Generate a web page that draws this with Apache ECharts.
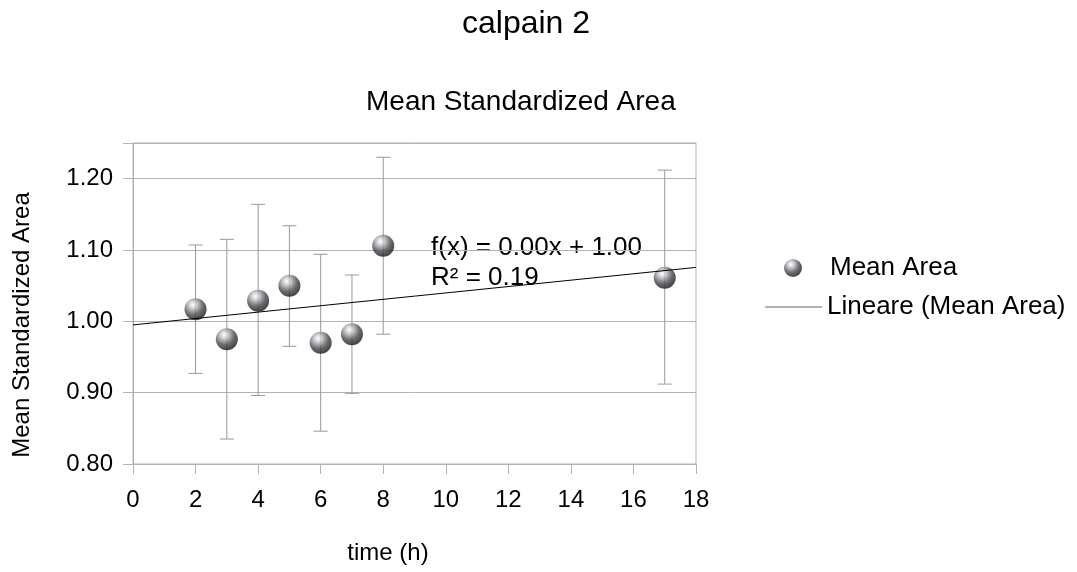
<!DOCTYPE html>
<html>
<head>
<meta charset="utf-8">
<script src="https://cdn.jsdelivr.net/npm/echarts@6/dist/echarts.min.js"></script>
<style>
html,body{margin:0;padding:0;background:#fff;}
#chart{width:1077px;height:572px;}
</style>
</head>
<body>
<div id="chart"></div>
<script>
// ---- data ----
const timeH = [2, 3, 4, 5, 6, 7, 8, 17];
const meanArea = [1.017, 0.975, 1.029, 1.050, 0.970, 0.982, 1.106, 1.061];
const errLow  = [0.927, 0.835, 0.896, 0.965, 0.846, 0.899, 0.982, 0.912];
const errHigh = [1.107, 1.115, 1.164, 1.134, 1.094, 1.065, 1.230, 1.212];
const trendX = [0, 18];
const trendY = [0.995, 1.0756];
const xTicks = [0, 2, 4, 6, 8, 10, 12, 14, 16, 18];
const yTicks = [0.80, 0.90, 1.00, 1.10, 1.20];

const FONT = '"Liberation Sans", Arial, sans-serif';
const chart = echarts.init(document.getElementById('chart'), null, {renderer: 'canvas'});

const sphere = new echarts.graphic.RadialGradient(0.38, 0.3, 0.75, [
  {offset: 0, color: '#ffffff'},
  {offset: 0.2, color: '#c9ccd2'},
  {offset: 0.6, color: '#4a4a4e'},
  {offset: 1, color: '#0d0d0d'}
]);

const points = timeH.map((t, i) => [t, meanArea[i]]);
const errData = timeH.map((t, i) => [t, errLow[i], errHigh[i]]);
const trendData = trendX.map((t, i) => [t, trendY[i]]);

const option = {
  backgroundColor: '#fff',
  animation: false,
  textStyle: {fontFamily: FONT},
  title: [
    {text: 'calpain 2', left: 462, top: 8, padding: 0,
     textStyle: {fontFamily: FONT, fontSize: 32, fontWeight: 'normal', color: '#000'}},
    {text: 'Mean Standardized Area', left: 366, top: 88, padding: 0,
     textStyle: {fontFamily: FONT, fontSize: 28, fontWeight: 'normal', color: '#000'}}
  ],
  legend: [
    {data: ['Mean Area'], left: 784, top: 255, padding: 0, orient: 'vertical',
     itemWidth: 18, itemHeight: 18, icon: 'circle',
     textStyle: {fontFamily: FONT, fontSize: 26, color: '#000', padding: [0, 0, 0, 23]}},
    {data: [{name: 'Lineare (Mean Area)', icon: 'rect', itemStyle: {color: '#666666'}}],
     left: 765, top: 294, padding: 0, orient: 'vertical',
     itemWidth: 57, itemHeight: 1,
     textStyle: {fontFamily: FONT, fontSize: 26, color: '#000'}}
  ],
  grid: {left: 133, right: 381, top: 143, bottom: 108, show: true,
         borderColor: '#b3b3b3', borderWidth: 1, containLabel: false},
  xAxis: {
    type: 'value', min: xTicks[0], max: xTicks[xTicks.length - 1], interval: 2,
    axisLine: {show: true, lineStyle: {color: '#b3b3b3'}},
    axisTick: {show: true, length: 10, lineStyle: {color: '#b3b3b3'}},
    axisLabel: {fontFamily: FONT, fontSize: 24, color: '#000', margin: 24},
    splitLine: {show: false}
  },
  yAxis: {
    type: 'value', min: yTicks[0], max: 1.25, interval: 0.1,
    axisLine: {show: true, lineStyle: {color: '#b3b3b3'}},
    axisTick: {show: true, length: 10, lineStyle: {color: '#b3b3b3'}},
    axisLabel: {fontFamily: FONT, fontSize: 24, color: '#000', margin: 20,
      formatter: v => (v > yTicks[yTicks.length - 1] + 0.01 ? '' : v.toFixed(2))},
    splitLine: {show: true, lineStyle: {color: '#b3b3b3', width: 1}}
  },
  graphic: [
    {type: 'text', left: 431, top: 235, style: {text: 'f(x) = 0.00x + 1.00', font: '26px ' + FONT, fill: '#000'}},
    {type: 'text', left: 431, top: 265, style: {text: 'R² = 0.19', font: '26px ' + FONT, fill: '#000'}},
    {type: 'text', x: 388, y: 553, style: {text: 'time (h)', font: '24px ' + FONT, fill: '#000',
      align: 'center', verticalAlign: 'middle'}},
    {type: 'text', x: 22, y: 325, rotation: Math.PI / 2, style: {text: 'Mean Standardized Area',
      font: '24px ' + FONT, fill: '#000', align: 'center', verticalAlign: 'middle'}}
  ],
  series: [
    {
      name: 'errors', type: 'custom', z: 2,
      data: errData,
      renderItem: function (params, api) {
        const x = api.value(0);
        const lo = api.coord([x, api.value(1)]);
        const hi = api.coord([x, api.value(2)]);
        const cap = 7;
        const st = {stroke: '#999999', lineWidth: 1};
        return {type: 'group', children: [
          {type: 'line', shape: {x1: lo[0], y1: lo[1], x2: hi[0], y2: hi[1]}, style: st},
          {type: 'line', shape: {x1: lo[0] - cap, y1: lo[1], x2: lo[0] + cap, y2: lo[1]}, style: st},
          {type: 'line', shape: {x1: hi[0] - cap, y1: hi[1], x2: hi[0] + cap, y2: hi[1]}, style: st}
        ]};
      },
      silent: true
    },
    {
      name: 'Mean Area', type: 'scatter', z: 3,
      data: points, symbol: 'circle', symbolSize: 22,
      itemStyle: {color: sphere}
    },
    {
      name: 'Lineare (Mean Area)', type: 'line', z: 4,
      data: trendData, symbol: 'none', showSymbol: false,
      lineStyle: {color: '#000', width: 1},
      itemStyle: {color: '#000'}
    }
  ]
};
chart.setOption(option);
</script>
</body>
</html>
